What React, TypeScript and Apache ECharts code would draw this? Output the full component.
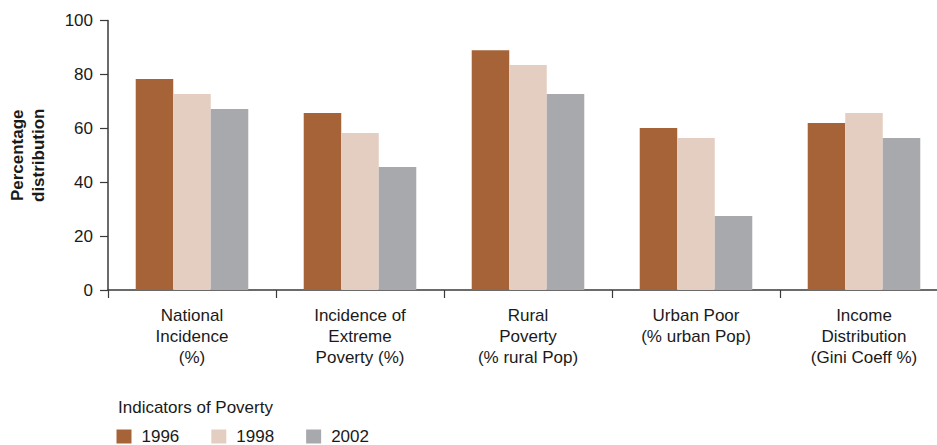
import React, { useEffect, useRef } from "react";
import * as echarts from "echarts";

const categories = [
  "National\nIncidence\n(%)",
  "Incidence of\nExtreme\nPoverty (%)",
  "Rural\nPoverty\n(% rural Pop)",
  "Urban Poor\n(% urban Pop)",
  "Income\nDistribution\n(Gini Coeff %)",
];
const seriesNames = ["1996", "1998", "2002"];
const values1996 = [78.3, 65.7, 89.0, 60.1, 62.0];
const values1998 = [72.7, 58.3, 83.5, 56.4, 65.7];
const values2002 = [67.2, 45.6, 72.7, 27.5, 56.4];
const colors = ["#A66338", "#E4CEC1", "#A8A9AC"];
const yTicks = { min: 0, max: 100, interval: 20 };

export default function App() {
  const ref = useRef<HTMLDivElement>(null);
  useEffect(() => {
    document.body.style.margin = "0";
    if (!ref.current) return;
    const chart = echarts.init(ref.current, undefined, { renderer: "svg" });
    const font = "Liberation Sans, Arial, sans-serif";
    const dataSets = [values1996, values1998, values2002];
    chart.setOption({
      animation: false,
      textStyle: { fontFamily: font },
      title: {
        text: "Indicators of Poverty",
        left: 118,
        top: 399,
        padding: 0,
        textStyle: { fontSize: 17, fontWeight: "normal", color: "#1a1a1a", fontFamily: font },
      },
      legend: {
        data: seriesNames,
        left: 116.5,
        top: 428,
        padding: 0,
        itemWidth: 15,
        itemHeight: 14,
        itemGap: 32,
        icon: "rect",
        textStyle: { fontSize: 17, color: "#1a1a1a", padding: [0, 0, 0, 5], fontFamily: font },
      },
      grid: { left: 108, right: -11, top: 20.5, bottom: 155, outerBoundsMode: "none", containLabel: false },
      xAxis: {
        type: "category",
        data: categories,
        axisLine: { lineStyle: { color: "#3a3a3a", width: 1.5 } },
        axisTick: { show: true, length: 8, lineStyle: { color: "#3a3a3a", width: 1.2 } },
        axisLabel: {
          interval: 0,
          margin: 15,
          fontSize: 17,
          lineHeight: 21,
          color: "#1a1a1a",
          fontFamily: font,
        },
      },
      yAxis: {
        type: "value",
        min: yTicks.min,
        max: yTicks.max,
        interval: yTicks.interval,
        name: "Percentage\ndistribution",
        nameLocation: "middle",
        nameGap: 59,
        nameTextStyle: { fontSize: 17, fontWeight: "bold", lineHeight: 21, color: "#1a1a1a", fontFamily: font },
        splitLine: { show: false },
        axisLine: { show: true, lineStyle: { color: "#3a3a3a", width: 1.5 } },
        axisTick: { show: true, length: 8, lineStyle: { color: "#3a3a3a", width: 1.2 } },
        axisLabel: { margin: 15, fontSize: 17, color: "#1a1a1a", fontFamily: font },
      },
      series: seriesNames.map((name, i) => ({
        name,
        type: "bar",
        data: dataSets[i],
        barGap: "0%",
        barCategoryGap: "33%",
        itemStyle: { color: colors[i] },
      })),
    });
    return () => chart.dispose();
  }, []);
  return <div ref={ref} style={{ width: 937, height: 445 }} />;
}
